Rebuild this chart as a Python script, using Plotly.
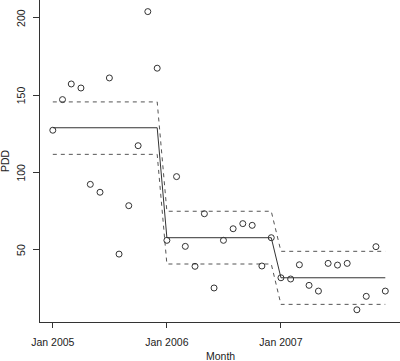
import plotly.graph_objects as go
import pandas as pd

months = pd.date_range("2005-01-01", "2007-12-01", freq="MS")
pdd = [127.4, 147.2, 157.3, 154.7, 92.4, 87.3, 161.2, 47.3, 78.6, 117.4, 204.1, 167.5,
       56.2, 97.4, 52.3, 39.4, 73.4, 25.4, 56.2, 63.7, 67.0, 65.9, 39.6, 57.9,
       32.0, 31.2, 40.4, 27.1, 23.4, 41.3, 40.2, 41.3, 11.3, 20.0, 52.1, 23.4]

# yearly fitted levels and bounds
year_mean = [129.0, 57.9, 32.0]
year_upper = [145.7, 75.0, 49.1]
year_lower = [111.8, 40.9, 14.8]

y_ticks = [50, 100, 150, 200]
x_ticks = ["2005-01-01", "2006-01-01", "2007-01-01"]
x_ticktext = ["Jan 2005", "Jan 2006", "Jan 2007"]

def step(levels):
    vals = []
    for lv in levels:
        vals += [lv] * 12
    return vals

mean_line = step(year_mean)
upper_line = step(year_upper)
lower_line = step(year_lower)

fig = go.Figure()
fig.add_trace(go.Scatter(x=months, y=upper_line, mode="lines",
                         line=dict(color="#555555", width=1, dash="4px,4px")))
fig.add_trace(go.Scatter(x=months, y=lower_line, mode="lines",
                         line=dict(color="#555555", width=1, dash="4px,4px")))
fig.add_trace(go.Scatter(x=months, y=mean_line, mode="lines",
                         line=dict(color="#333333", width=1)))
fig.add_trace(go.Scatter(x=months, y=pdd, mode="markers",
                         marker=dict(symbol="circle-open", size=6,
                                     color="#333333", line=dict(width=1, color="#333333"))))

font = dict(family="Liberation Sans, Arial, sans-serif", size=10.5, color="#222222")

annotations = [
    dict(text="Month", xref="paper", yref="paper", x=0.5, y=0,
         yshift=-34, showarrow=False, font=font, yanchor="middle"),
    dict(text="PDD", xref="paper", yref="paper", x=0, y=0.5,
         xshift=-35, showarrow=False, font=font, textangle=-90, xanchor="center"),
]
for t in y_ticks:
    annotations.append(dict(text=str(t), xref="paper", yref="y", x=0, y=t,
                            xshift=-19, showarrow=False, font=font, textangle=-90,
                            xanchor="center", yanchor="middle"))

fig.update_layout(
    width=400, height=361,
    margin=dict(l=40, r=0, t=0, b=39, autoexpand=False),
    plot_bgcolor="white", paper_bgcolor="white",
    showlegend=False,
    font=font,
    xaxis=dict(
        range=["2004-11-21", "2008-01-17"],
        tickvals=x_ticks,
        ticktext=x_ticktext,
        showgrid=False, zeroline=False, automargin=False,
        showline=True, linecolor="#333333", linewidth=1,
        ticks="outside", ticklen=5, tickcolor="#333333",
        ticklabelstandoff=5,
    ),
    yaxis=dict(
        range=[3.4, 211.6],
        tickvals=y_ticks,
        showticklabels=False,
        showgrid=False, zeroline=False, automargin=False,
        showline=True, linecolor="#333333", linewidth=1,
        ticks="outside", ticklen=6, tickcolor="#333333",
    ),
    annotations=annotations,
)

fig.write_html("out.html", config={"displayModeBar": False},
               post_script="document.body.style.margin='0';document.body.style.padding='0';")
